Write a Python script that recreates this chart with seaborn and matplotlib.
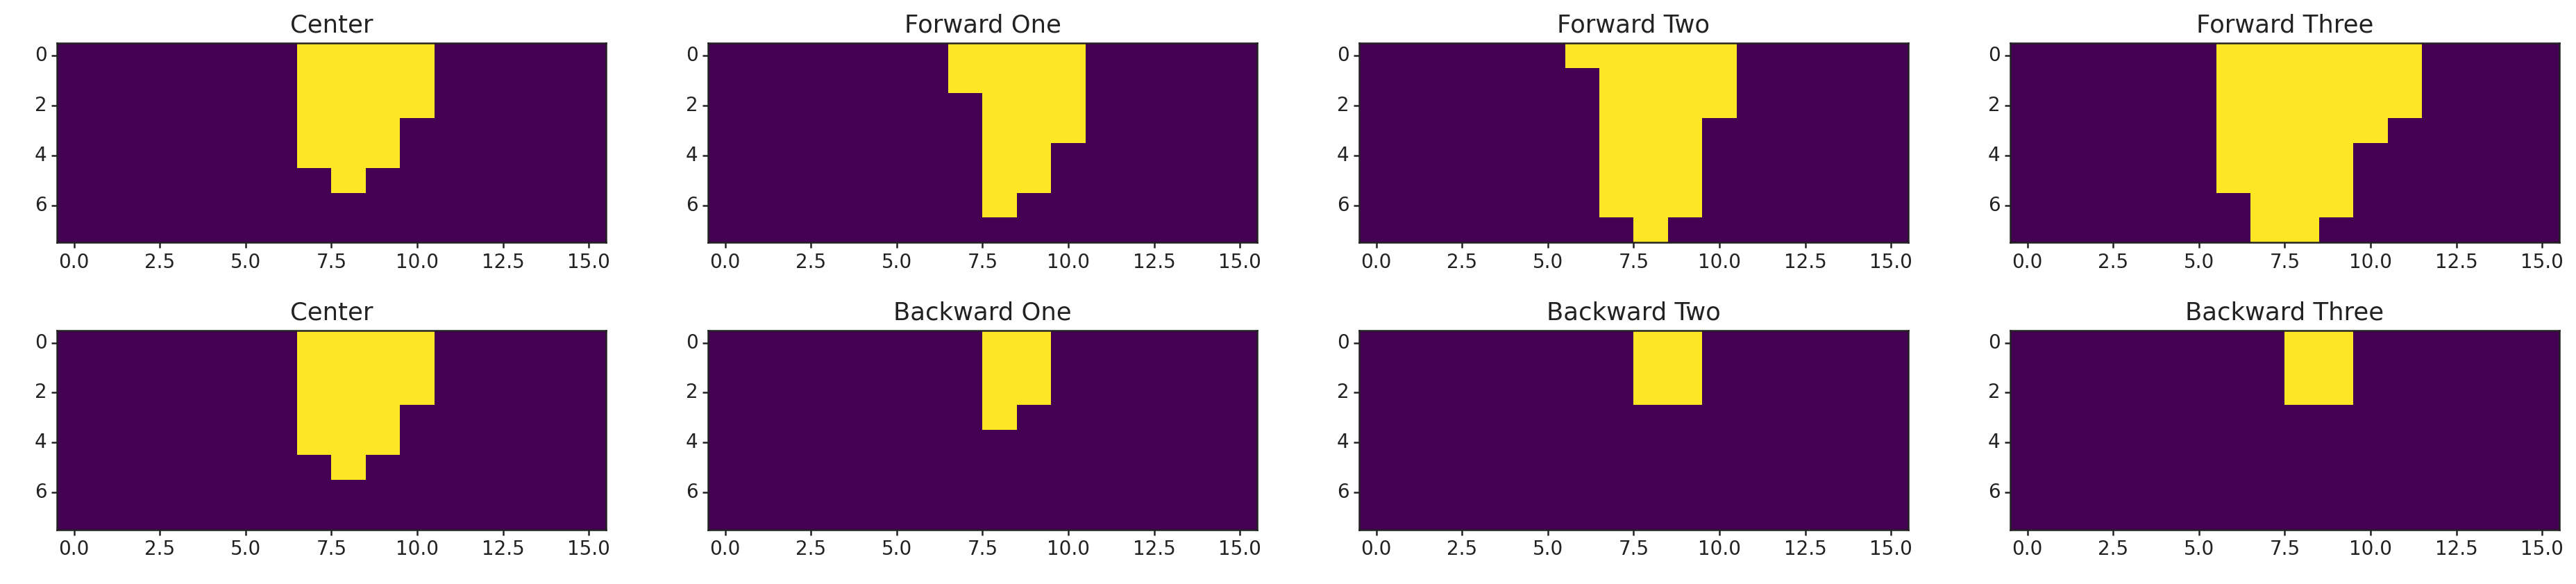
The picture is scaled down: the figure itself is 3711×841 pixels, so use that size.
import numpy as np
import matplotlib
matplotlib.use("Agg")
import matplotlib.pyplot as plt
import seaborn as sns

N_ROWS, N_COLS = 8, 16

titles = ["Center", "Forward One", "Forward Two", "Forward Three",
          "Center", "Backward One", "Backward Two", "Backward Three"]

# yellow cells per row as (first col, last col), None = empty row
center = [(7, 10), (7, 10), (7, 10), (7, 9), (7, 9), (8, 8), None, None]
forward_one = [(7, 10), (7, 10), (8, 10), (8, 10), (8, 9), (8, 9), (8, 8), None]
forward_two = [(6, 10), (7, 10), (7, 10), (7, 9), (7, 9), (7, 9), (7, 9), (8, 8)]
forward_three = [(6, 11), (6, 11), (6, 11), (6, 10), (6, 9), (6, 9), (7, 9), (7, 8)]
backward_one = [(8, 9), (8, 9), (8, 9), (8, 8), None, None, None, None]
backward_two = [(8, 9), (8, 9), (8, 9), None, None, None, None, None]
backward_three = [(8, 9), (8, 9), (8, 9), None, None, None, None, None]

masks = [center, forward_one, forward_two, forward_three,
         center, backward_one, backward_two, backward_three]

x_ticks = [0.0, 2.5, 5.0, 7.5, 10.0, 12.5, 15.0]
y_ticks = [0, 2, 4, 6]


def to_grid(spans):
    grid = np.zeros((N_ROWS, N_COLS))
    for r, span in enumerate(spans):
        if span is not None:
            grid[r, span[0]:span[1] + 1] = 1
    return grid


fig, axes = plt.subplots(2, 4, figsize=(37.11, 8.41), dpi=100)
plt.subplots_adjust(left=0.0221, right=0.9935, top=0.926, bottom=0.093,
                    wspace=0.186, hspace=0.44)

for ax, title, spans in zip(axes.flat, titles, masks):
    sns.heatmap(to_grid(spans), ax=ax, cmap="viridis", vmin=0, vmax=1,
                cbar=False, square=False)
    for s in ax.spines.values():
        s.set_visible(True)
        s.set_linewidth(1.8)
        s.set_color("#222222")
    # imshow-like ticks at cell centres
    ax.set_xticks([v + 0.5 for v in x_ticks])
    ax.set_xticklabels([f"{v:.1f}" for v in x_ticks], rotation=0)
    ax.set_yticks([v + 0.5 for v in y_ticks])
    ax.set_yticklabels([str(v) for v in y_ticks], rotation=0)
    ax.tick_params(labelsize=20, length=6, width=1.8, pad=4.5, colors="#222222")
    ax.set_title(title, fontsize=25.5, pad=11, color="#222222")

plt.savefig("out.png", dpi=100)
